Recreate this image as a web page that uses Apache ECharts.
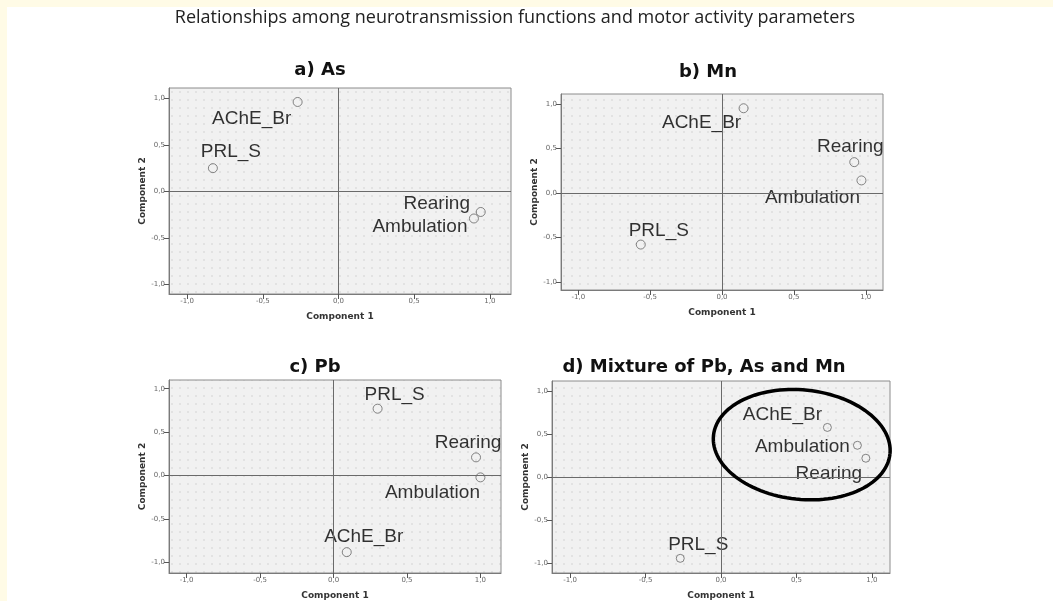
<!DOCTYPE html>
<html>
<head>
<meta charset="utf-8">
<script src="https://cdn.jsdelivr.net/npm/echarts@6/dist/echarts.min.js"></script>
<style>
html,body{margin:0;padding:0;background:#fff;}
#chart{width:1053px;height:601px;}
</style>
</head>
<body>
<div id="chart"></div>
<script>
// ---- data ----
const variables = ['AChE_Br', 'PRL_S', 'Rearing', 'Ambulation'];
const asComp1  = [-0.27, -0.83, 0.94, 0.895];
const asComp2  = [0.96, 0.25, -0.22, -0.29];
const mnComp1  = [0.15, -0.565, 0.92, 0.97];
const mnComp2  = [0.95, -0.58, 0.345, 0.14];
const pbComp1  = [0.09, 0.30, 0.97, 1.00];
const pbComp2  = [-0.88, 0.77, 0.21, -0.02];
const mixComp1 = [0.705, -0.27, 0.96, 0.904];
const mixComp2 = [0.577, -0.94, 0.22, 0.37];
const tickValues = [-1, -0.5, 0, 0.5, 1];
const tickLabels = ['-1,0', '-0,5', '0,0', '0,5', '1,0'];
const panelTitles = ['a) As', 'b) Mn', 'c) Pb', 'd) Mixture of Pb, As and Mn'];
const mainTitle = 'Relationships among neurotransmission functions and motor activity parameters';
// highlighted cluster in panel d: [centre x, centre y, radius x, radius y] in data units
const clusterEllipse = [0.535, 0.377, 0.588, 0.634];

// ---- layout / style ----
const layouts = [
  {grid:{left:169, top:88, width:342, height:206}, x:[-1.12,1.14], y:[-1.10,1.11], title:[320,70], sym:9,
   offsets:[[-46,17],[18,-16],[-44,-8],[-54,8]]},
  {grid:{left:561, top:94, width:322, height:196}, x:[-1.12,1.12], y:[-1.09,1.11], title:[708,72], sym:9,
   offsets:[[-42,15],[18,-14],[-4,-15],[-49,17]]},
  {grid:{left:169, top:380, width:332, height:198}, x:[-1.12,1.14], y:[-1.12,1.10], title:[315,367], sym:9,
   offsets:[[17,-15],[17,-14],[-8,-15],[-48,15]]},
  {grid:{left:552, top:381, width:338, height:193}, x:[-1.12,1.12], y:[-1.11,1.115], title:[704,367], sym:8,
   offsets:[[-45,-13],[18,-14],[-37,16],[-55,1]]}
];
const panelData = [[asComp1, asComp2],[mnComp1, mnComp2],[pbComp1, pbComp2],[mixComp1, mixComp2]];

const uiFont = 'DejaVu Sans';
const labelFont = 'Liberation Sans';

function makePattern(){
  const c = document.createElement('canvas');
  c.width = 8; c.height = 8;
  const g = c.getContext('2d');
  g.fillStyle = '#f1f1f1'; g.fillRect(0,0,8,8);
  g.fillStyle = '#e2e2e2'; g.fillRect(3,3,2,2);
  return c;
}
const pat = makePattern();

const chart = echarts.init(document.getElementById('chart'), null, {renderer:'canvas'});

const grids = [], xAxes = [], yAxes = [], series = [], titles = [];
titles.push({text: mainTitle, left: 515, top: 18, textAlign:'center', textVerticalAlign:'middle', padding:0,
  textStyle:{fontFamily:'Open Sans', fontSize:18, fontWeight:'normal', color:'#222'}});

layouts.forEach((L, i) => {
  grids.push(Object.assign({show:true, borderColor:'#8c8c8c', borderWidth:1,
    backgroundColor:{image: pat, repeat:'repeat'}}, L.grid));
  titles.push({text: panelTitles[i], left: L.title[0], top: L.title[1], textAlign:'center', textVerticalAlign:'middle', padding:0,
    textStyle:{fontFamily: uiFont, fontSize:18, fontWeight:'bold', color:'#111'}});
  const axisCommon = {
    type:'value', gridIndex:i, nameLocation:'middle',
    nameTextStyle:{fontFamily: uiFont, fontSize:9, fontWeight:'bold', color:'#333'},
    axisLine:{show:true, onZero:false, lineStyle:{color:'#7a7a7a', width:1}},
    axisTick:{show:true, length:5, customValues: tickValues, lineStyle:{color:'#555'}},
    axisLabel:{show:true, fontSize:7, color:'#666', fontFamily:uiFont, margin:4, customValues: tickValues,
      formatter: v => { const k = tickValues.findIndex(t => Math.abs(t - v) < 1e-9); return k >= 0 ? tickLabels[k] : ''; }},
    splitLine:{show:false}
  };
  xAxes.push(Object.assign({}, axisCommon, {min:L.x[0], max:L.x[1], name:'Component 1', nameGap:18}));
  yAxes.push(Object.assign({}, axisCommon, {min:L.y[0], max:L.y[1], name:'Component 2', nameGap:21}));
  const [c1, c2] = panelData[i];
  series.push({
    type:'scatter', xAxisIndex:i, yAxisIndex:i, symbol:'circle', symbolSize:L.sym,
    itemStyle:{color:'rgba(255,255,255,0)', borderColor:'#666', borderWidth:1},
    label:{show:true, position:'inside', formatter: p => p.name, fontFamily: labelFont, fontSize:19, color:'#000',
      textBorderWidth:0, textShadowBlur:0},
    data: variables.map((v, k) => ({name:v, value:[c1[k], c2[k]], label:{offset:L.offsets[k]}})),
    markLine:{silent:true, symbol:'none', label:{show:false}, lineStyle:{color:'#6a6a6a', width:1, type:'solid'},
      data:[{xAxis:0},{yAxis:0}], animation:false},
    animation:false, z:3
  });
});

// cluster ellipse on panel d, drawn through its axes
series.push({
  type:'custom', xAxisIndex:3, yAxisIndex:3, data:[clusterEllipse], silent:true, z:5,
  renderItem: (params, api) => {
    const c = api.coord([api.value(0), api.value(1)]);
    const s = api.size([api.value(2), api.value(3)]);
    const rot = 6 * Math.PI / 180;
    const pts = [];
    for (let t = 0; t <= 120; t++) {
      const a = t / 120 * 2 * Math.PI;
      const ex = s[0] * Math.cos(a), ey = s[1] * Math.sin(a);
      pts.push([c[0] + ex * Math.cos(rot) - ey * Math.sin(rot), c[1] + ex * Math.sin(rot) + ey * Math.cos(rot)]);
    }
    return {type:'polyline', shape:{points:pts}, style:{stroke:'#000', lineWidth:3.5, fill:null}};
  },
  animation:false
});

chart.setOption({
  backgroundColor:'#ffffff',
  animation:false,
  title: titles,
  grid: grids, xAxis: xAxes, yAxis: yAxes, series: series,
  graphic:[
    {type:'rect', shape:{x:0, y:0, width:1053, height:7}, style:{fill:'#fffbe6'}, z:-1, silent:true},
    {type:'rect', shape:{x:0, y:0, width:7, height:601}, style:{fill:'#fffbe6'}, z:-1, silent:true}
  ]
});
</script>
</body>
</html>
